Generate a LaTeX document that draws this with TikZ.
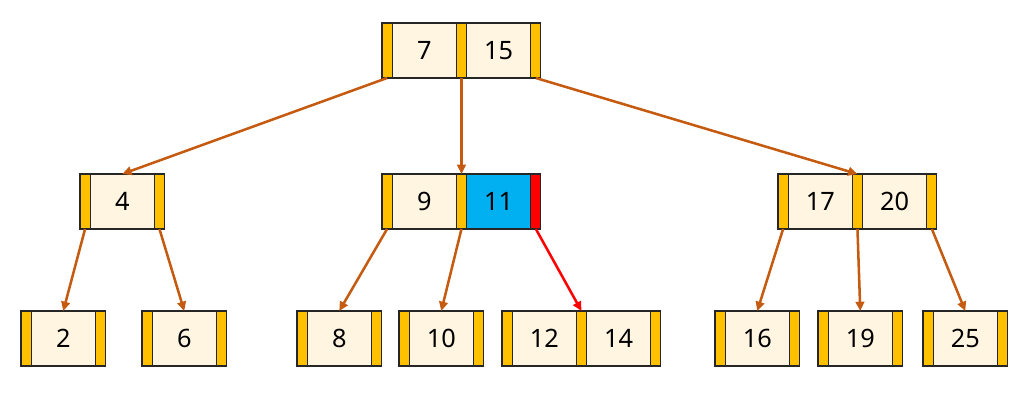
\documentclass[tikz,border=0pt]{standalone}
\usepackage{fontspec}
\setmainfont{Noto Sans}
\usetikzlibrary{arrows.meta}
\definecolor{gold}{HTML}{FFC000}
\definecolor{cream}{HTML}{FFF5E1}
\definecolor{skyb}{HTML}{00B0F0}
\definecolor{rust}{HTML}{C55A11}
\begin{document}
\begin{tikzpicture}[x=0.75pt,y=-0.75pt,
  ptr/.style={draw=black!85, fill=gold, minimum width=7.6pt, minimum height=41.25pt,
    inner sep=0pt, outer sep=0pt, anchor=north west, line width=0.8pt},
  keyc/.style={ptr, fill=cream, minimum width=48.2pt, font=\fontsize{19}{21}\selectfont},
  link/.style={draw=rust, line width=1.9pt, -{Triangle[length=7pt,width=6.5pt]}},
  redlink/.style={link, draw=red}]
\useasboundingbox (0,0) rectangle (1027,394);
% root
\node[ptr] (r0) at (382,23) {};
\node[keyc] (r1) at (r0.north east) {7};
\node[ptr] (r2) at (r1.north east) {};
\node[keyc] (r3) at (r2.north east) {15};
\node[ptr] (r4) at (r3.north east) {};
% level 2: 4
\node[ptr] (a0) at (80,174) {};
\node[keyc] (a1) at (a0.north east) {4};
\node[ptr] (a2) at (a1.north east) {};
% level 2: 9 11
\node[ptr] (b0) at (382,174) {};
\node[keyc] (b1) at (b0.north east) {9};
\node[ptr] (b2) at (b1.north east) {};
\node[keyc, fill=skyb] (b3) at (b2.north east) {11};
\node[ptr, fill=red] (b4) at (b3.north east) {};
% level 2: 17 20
\node[ptr] (c0) at (778,174) {};
\node[keyc] (c1) at (c0.north east) {17};
\node[ptr] (c2) at (c1.north east) {};
\node[keyc] (c3) at (c2.north east) {20};
\node[ptr] (c4) at (c3.north east) {};
% leaves
\foreach \nm/\xx/\val in {d/21/2, e/142/6, f/297/8, g/399/10, i/715/16, j/818/19, k/923/25}{
  \node[ptr] (\nm0) at (\xx,311) {};
  \node[keyc] (\nm1) at (\nm0.north east) {\val};
  \node[ptr] (\nm2) at (\nm1.north east) {};
}
\node[ptr] (h0) at (502,311) {};
\node[keyc] (h1) at (h0.north east) {12};
\node[ptr] (h2) at (h1.north east) {};
\node[keyc] (h3) at (h2.north east) {14};
\node[ptr] (h4) at (h3.north east) {};
% connectors
\draw[link] (r0.south) -- (a1.north);
\draw[link] (r2.south) -- (b2.north);
\draw[link] (r4.south) -- (c2.north);
\draw[link] (a0.south) -- (d1.north);
\draw[link] (a2.south) -- (e1.north);
\draw[link] (b0.south) -- (f1.north);
\draw[link] (b2.south) -- (g1.north);
\draw[redlink] (b4.south) -- (h2.north);
\draw[link] (c0.south) -- (i1.north);
\draw[link] (c2.south) -- (j1.north);
\draw[link] (c4.south) -- (k1.north);
\end{tikzpicture}
\end{document}
